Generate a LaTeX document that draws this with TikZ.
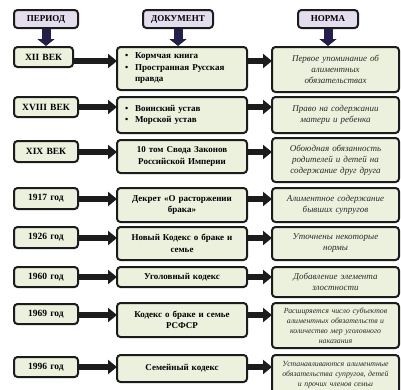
\documentclass[tikz,border=0pt]{standalone}
\usepackage{fontspec}
\setmainfont{Liberation Serif}
\usetikzlibrary{arrows.meta}
\definecolor{boxfill}{HTML}{EBF1DC}
\definecolor{headfill}{HTML}{E4DDEE}
\definecolor{edge}{HTML}{1C1C1C}
\definecolor{navy}{HTML}{22204A}
\definecolor{normtext}{HTML}{2A2A2A}
\tikzset{
  base/.style={draw=edge, line width=2pt, rounded corners=3.5pt, inner sep=0pt, align=center},
  head/.style={base, fill=headfill, font=\fontsize{9}{10}\selectfont\bfseries},
  per/.style={base, fill=boxfill, font=\fontsize{9.5}{10}\selectfont\bfseries},
  doc/.style={base, fill=boxfill, font=\fontsize{9}{11.5}\selectfont\bfseries},
  docl/.style={doc, align=left},
  norm/.style={base, fill=boxfill, text=normtext, font=\fontsize{9}{11}\selectfont\itshape},
  normsm/.style={norm, font=\fontsize{7.8}{10}\selectfont\itshape},
  arr/.style={edge, line width=6pt, -{Triangle[length=9pt,width=14pt]}, shorten >=-1pt},
  darr/.style={navy, line width=9pt, -{Triangle[length=7pt,width=17pt]}}
}
\newcommand\mybox[7]{%
  \pgfmathsetmacro\bw{#5-#3}\pgfmathsetmacro\bh{#6-#4}\pgfmathsetmacro\tw{#5-#3-6}%
  \node[#2, minimum width=\bw pt, minimum height=\bh pt, text width=\tw pt] (#1) at ({(#3+#5)/2},{(#4+#6)/2}) {#7};}
\newcommand\itm[1]{\makebox[15pt][l]{\hspace{5pt}\textbullet}#1}
\begin{document}
\begin{tikzpicture}[x=1pt,y=-1pt]
\useasboundingbox (0,0) rectangle (401,389);
% headers
\mybox{h1}{head}{14}{10}{78}{28}{ПЕРИОД}
\mybox{h2}{head}{143}{10}{213}{28}{ДОКУМЕНТ}
\mybox{h3}{head}{298}{10}{358}{28}{НОРМА}
% row 1
\mybox{p1}{per}{14}{47}{73}{67}{XII ВЕК}
\mybox{d1}{docl}{117}{47}{247}{90}{\itm{Кормчая книга}\\ \itm{Пространная Русская}\\ \hspace*{15pt}правда}
\mybox{n1}{norm}{272}{47}{399}{92}{Первое упоминание об\\ алиментных\\ обязательствах}
% row 2
\mybox{p2}{per}{14}{97}{78}{117}{XVIII ВЕК}
\mybox{d2}{docl}{117}{97}{247}{133}{\itm{Воинский устав}\\ \itm{Морской устав}}
\mybox{n2}{norm}{272}{97}{399}{133}{Право на содержании\\ матери и ребенка}
% row 3
\mybox{p3}{per}{14}{141}{78}{162}{XIX ВЕК}
\mybox{d3}{doc}{117}{140}{247}{173}{10 том Свода Законов\\ Российской Империи}
\mybox{n3}{norm}{272}{138}{399}{182}{Обоюдная обязанность\\ родителей и детей на\\ содержание друг друга}
% row 4
\mybox{p4}{per}{14}{188}{78}{209}{1917 год}
\mybox{d4}{doc}{117}{188}{247}{222}{Декрет «О расторжении\\ брака»}
\mybox{n4}{norm}{272}{188}{399}{222}{Алиментное содержание\\ бывших супругов}
% row 5
\mybox{p5}{per}{14}{227}{78}{248}{1926 год}
\mybox{d5}{doc}{117}{227}{247}{260}{Новый Кодекс о браке и\\ семье}
\mybox{n5}{norm}{272}{227}{399}{260}{Уточнены некоторые\\ нормы}
% row 6
\mybox{p6}{per}{14}{267}{78}{287}{1960 год}
\mybox{d6}{doc}{117}{267}{247}{287}{Уголовный кодекс}
\mybox{n6}{norm}{272}{267}{399}{297}{Добавление элемента\\ злостности}
% row 7
\mybox{p7}{per}{14}{304}{78}{324}{1969 год}
\mybox{d7}{doc}{117}{303}{247}{337}{Кодекс о браке и семье\\ РСФСР}
\mybox{n7}{normsm}{272}{303}{399}{348}{Расширяется число субъектов\\ алиментных обязательств и\\ количество мер уголовного\\ наказания}
% row 8
\mybox{p8}{per}{14}{357}{78}{377}{1996 год}
\mybox{d8}{doc}{117}{355}{247}{382}{Семейный кодекс}
\mybox{n8}{normsm}{272}{355}{399}{394}{Устанавливаются алиментные\\ обязательства супругов, детей\\ и прочих членов семьи}
% header arrows
\draw[darr] (h1.south) -- (h1.south |- p1.north);
\draw[darr] (h2.south) -- (h2.south |- d1.north);
\draw[darr] (h3.south) -- (h3.south |- n1.north);
% row arrows
\foreach \r/\yy in {1/61,2/107,3/152,4/199,5/238,6/277,7/315,8/367}{
  \coordinate (a\r) at (0,\yy);
  \draw[arr] (p\r.east |- a\r) -- (d\r.west |- a\r);
  \draw[arr] (d\r.east |- a\r) -- (n\r.west |- a\r);
}
\end{tikzpicture}
\end{document}
